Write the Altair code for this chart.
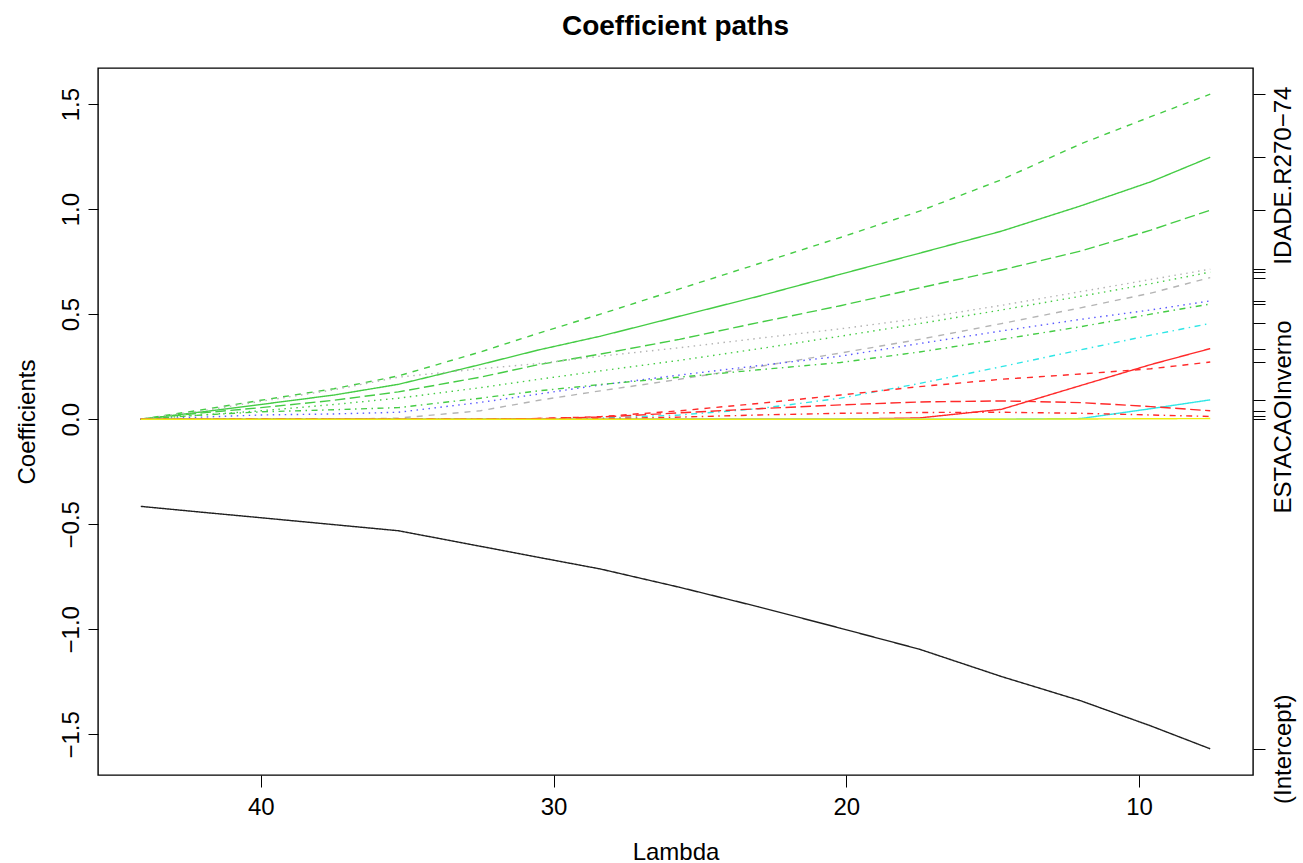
import altair as alt
import pandas as pd

# ---------------- data ----------------
lambdas = [44.1, 42.0, 40.0, 37.5, 35.3, 32.5, 30.5, 28.4, 25.7, 23.0, 20.2, 17.5, 14.7, 12.0, 9.6, 7.57]

intercept   = [-0.415, -0.443, -0.469, -0.502, -0.531, -0.605, -0.658, -0.713, -0.800, -0.893, -0.995, -1.095, -1.225, -1.340, -1.460, -1.569]
green_dash  = [0.0, 0.045, 0.090, 0.145, 0.206, 0.320, 0.410, 0.500, 0.620, 0.740, 0.865, 0.990, 1.140, 1.310, 1.440, 1.547]
green_solid = [0.0, 0.035, 0.070, 0.115, 0.166, 0.260, 0.330, 0.395, 0.490, 0.585, 0.690, 0.790, 0.895, 1.015, 1.130, 1.247]
green_long  = [0.0, 0.030, 0.055, 0.090, 0.130, 0.200, 0.260, 0.310, 0.380, 0.460, 0.540, 0.625, 0.710, 0.800, 0.900, 0.995]
gray_dot    = [0.0, 0.040, 0.085, 0.140, 0.200, 0.240, 0.265, 0.300, 0.340, 0.385, 0.430, 0.480, 0.542, 0.607, 0.665, 0.714]
green_dot   = [0.0, 0.020, 0.040, 0.070, 0.100, 0.150, 0.190, 0.230, 0.280, 0.335, 0.395, 0.455, 0.520, 0.585, 0.645, 0.700]
gray_dash   = [0.0, 0.0, 0.0, 0.0, 0.005, 0.040, 0.090, 0.135, 0.190, 0.250, 0.315, 0.380, 0.455, 0.530, 0.600, 0.674]
blue_dot    = [0.0, 0.010, 0.020, 0.025, 0.033, 0.080, 0.120, 0.163, 0.210, 0.255, 0.300, 0.360, 0.420, 0.475, 0.520, 0.563]
green_dd    = [0.0, 0.020, 0.035, 0.045, 0.055, 0.100, 0.135, 0.165, 0.200, 0.235, 0.270, 0.320, 0.380, 0.440, 0.500, 0.548]
cyan_dd     = [0.0, 0.0, 0.0, 0.0, 0.0, 0.0, 0.0, 0.005, 0.020, 0.050, 0.100, 0.170, 0.250, 0.330, 0.400, 0.456]
red_solid   = [0.0, 0.0, 0.0, 0.0, 0.0, 0.0, 0.0, 0.0, 0.0, 0.0, 0.0, 0.006, 0.047, 0.160, 0.260, 0.336]
red_dash    = [0.0, 0.0, 0.0, 0.0, 0.0, 0.0, 0.003, 0.012, 0.040, 0.075, 0.115, 0.155, 0.190, 0.215, 0.240, 0.272]
cyan_solid  = [0.0, 0.0, 0.0, 0.0, 0.0, 0.0, 0.0, 0.0, 0.0, 0.0, 0.0, 0.0, 0.0, 0.003, 0.050, 0.092]
red_long    = [0.0, 0.0, 0.0, 0.0, 0.0, 0.0, 0.003, 0.010, 0.030, 0.050, 0.068, 0.082, 0.087, 0.079, 0.060, 0.040]
red_dd      = [0.0, 0.0, 0.0, 0.0, 0.0, 0.0, 0.0, 0.002, 0.010, 0.020, 0.028, 0.032, 0.033, 0.028, 0.020, 0.013]
yellow      = [0.0, 0.0, 0.0, 0.0, 0.0, 0.0, 0.0, 0.0, 0.0, 0.0, 0.0, 0.0, 0.0, 0.001, 0.002, 0.003]

series_names = ["intercept", "green_dash", "green_solid", "green_long", "gray_dot", "green_dot",
                "gray_dash", "blue_dot", "green_dd", "cyan_dd", "red_solid", "red_dash",
                "cyan_solid", "red_long", "red_dd", "yellow"]
series_values = [intercept, green_dash, green_solid, green_long, gray_dot, green_dot,
                 gray_dash, blue_dot, green_dd, cyan_dd, red_solid, red_dash,
                 cyan_solid, red_long, red_dd, yellow]

# right-hand axis labels (only the ones R managed to draw)
right_labels = {"green_solid": "IDADE.R270\u221274", "red_dd": "ESTACAOInverno", "intercept": "(Intercept)"}

x_ticks = [10, 20, 30, 40]
y_ticks = [-1.5, -1.0, -0.5, 0.0, 0.5, 1.0, 1.5]

# ---------------- styles ----------------
GREEN, RED, CYAN, BLUE, GRAY, YELLOW, BLACK = "#45cc45", "#ff2a2a", "#2ee6e6", "#5a5aff", "#b4b4b4", "#eeee10", "#202020"
LTY1, LTY2, LTY3, LTY4, LTY5 = [1, 0], [6, 6], [1.5, 4.5], [1.5, 4.5, 6, 4.5], [10.5, 4.5]
style = {
    "intercept": (BLACK, LTY1), "green_dash": (GREEN, LTY2), "green_solid": (GREEN, LTY1),
    "green_long": (GREEN, LTY5), "gray_dot": (GRAY, LTY3), "green_dot": (GREEN, LTY3),
    "gray_dash": (GRAY, LTY2), "blue_dot": (BLUE, LTY3), "green_dd": (GREEN, LTY4),
    "cyan_dd": (CYAN, LTY4), "red_solid": (RED, LTY1), "red_dash": (RED, LTY2),
    "cyan_solid": (CYAN, LTY1), "red_long": (RED, LTY5), "red_dd": (RED, LTY4), "yellow": (YELLOW, LTY1),
}

rows = []
for name, vals in zip(series_names, series_values):
    for lam, v in zip(lambdas, vals):
        rows.append({"series": name, "lambda": lam, "coef": v})
df = pd.DataFrame(rows)

ends = pd.DataFrame({"series": series_names,
                     "lambda": [lambdas[-1]] * len(series_names),
                     "coef": [v[-1] for v in series_values]})
end_values = [v[-1] for v in series_values]

# R-style 4% range extension
lo, hi = min(lambdas), max(lambdas)
xdom = [lo - 0.04 * (hi - lo), hi + 0.04 * (hi - lo)]
allv = [x for s in series_values for x in s]
ylo, yhi = min(allv), max(allv)
ydom = [ylo - 0.04 * (yhi - ylo), yhi + 0.04 * (yhi - ylo)]

FONT = "Liberation Sans"

x_enc = alt.X("lambda:Q",
              scale=alt.Scale(domain=xdom, reverse=True, nice=False, zero=False),
              axis=alt.Axis(values=x_ticks, format="d", title="Lambda", grid=False, domain=False,
                            tickSize=12, tickColor="black", labelColor="black", labelFontSize=24,
                            labelFont=FONT, labelPadding=8, titleFont=FONT, titleFontSize=24,
                            titleFontWeight="normal", titleColor="black", titleX=577.5, titleY=84,
                            titleAlign="center", titleBaseline="alphabetic", labelFlush=False))

lines = alt.Chart(df).mark_line(strokeWidth=1.4, clip=True).encode(
    x=x_enc,
    y=alt.Y("coef:Q",
            scale=alt.Scale(domain=ydom, nice=False, zero=False),
            axis=alt.Axis(values=y_ticks, format=".1f", title="Coefficients", grid=False, domain=False,
                          orient="left", tickSize=10, tickColor="black", labelColor="black",
                          labelFontSize=24, labelFont=FONT, labelAngle=270, labelAlign="center",
                          labelBaseline="alphabetic", labelPadding=10, labelFlush=False,
                          titleFont=FONT, titleFontSize=24, titleFontWeight="normal", titleColor="black",
                          titleAngle=270, titleX=-64, titleY=353.5, titleAlign="center",
                          titleBaseline="alphabetic")),
    color=alt.Color("series:N", scale=alt.Scale(domain=series_names, range=[style[n][0] for n in series_names]),
                    legend=None),
    strokeDash=alt.StrokeDash("series:N", scale=alt.Scale(domain=series_names,
                                                          range=[style[n][1] for n in series_names]),
                              legend=None),
)

expr = ""
for name, lab in right_labels.items():
    v = ends.loc[ends.series == name, "coef"].iloc[0]
    expr += f"datum.value == {v} ? '{lab}' : "
expr += "''"
idade_val = ends.loc[ends.series == "green_solid", "coef"].iloc[0]

right = alt.Chart(ends).mark_point(opacity=0).encode(
    x=x_enc,
    y=alt.Y("coef:Q",
            scale=alt.Scale(domain=ydom, nice=False, zero=False),
            axis=alt.Axis(values=end_values, labelExpr=expr, title=None, grid=False, domain=False,
                          orient="right", tickSize=12, tickColor="black", labelColor="black",
                          labelFontSize=24, labelFont=FONT, labelAngle=270, labelAlign="center",
                          labelBaseline="top", labelPadding=6, labelFlush=False, labelOverlap=False,
                          labelBound=False, labelLimit=600,
                          labelOffset={"condition": {"test": f"datum.value == {idade_val}", "value": 18},
                                       "value": 0})),
)

chart = alt.layer(lines, right).resolve_scale(y="independent").properties(
    width=1155, height=707,
    title=alt.TitleParams("Coefficient paths", font=FONT, fontSize=28, fontWeight="bold",
                          color="black", anchor="middle", offset=5, baseline="alphabetic",
                          frame="group"),
    autosize=alt.AutoSizeParams(type="none"),
    padding={"left": 98, "top": 68, "right": 50, "bottom": 88},
).configure(background="white").configure_view(stroke="black", strokeWidth=1.4)

chart.save("out.html", embed_options={"renderer": "svg", "actions": False})
